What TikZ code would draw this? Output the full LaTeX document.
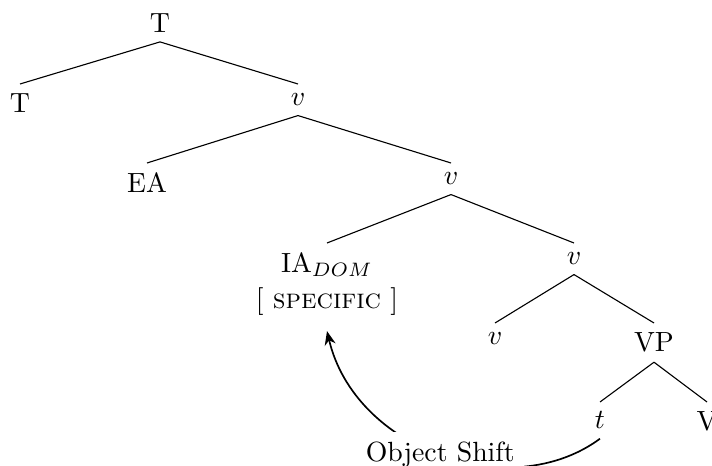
\documentclass[tikz,border=0pt]{standalone}
\usetikzlibrary{arrows.meta}
\tikzset{
    leaf/.style={anchor=north, inner sep=3.33pt},
    branch/.style={line width=0.4pt},
    shift arrow/.style={-{Stealth[length=5pt,width=4pt]}, semithick}
}
\begin{document}
\begin{tikzpicture}[x=0.36pt,y=-0.36pt]
    \useasboundingbox (0,0) rectangle (712,466);
    % tree nodes, placed by their top
    \node[leaf] (tp) at (160,3.5) {T};
    \node[leaf] (t0) at (20,84) {T};
    \node[leaf] (v1) at (298,84) {$v$};
    \node[leaf] (ea) at (147,163) {EA};
    \node[leaf] (v2) at (451,163) {$v$};
    \node[leaf, align=center] (ia) at (327,243) {IA$_{DOM}$\\[1pt] {[}~\textsc{specific}~{]}};
    \node[leaf] (v3) at (574,243) {$v$};
    \node[leaf] (v4) at (495,323) {$v$};
    \node[leaf] (vp) at (654,323) {VP};
    \node[leaf] (tr) at (600,402) {$t$};
    \node[leaf] (vv) at (707,402) {V};
    % branches
    \foreach \p/\c in {tp/t0, tp/v1, v1/ea, v1/v2, v2/ia, v2/v3, v3/v4, v3/vp, vp/tr, vp/vv}
        \draw[branch] (\p.south) -- (\c.north);
    % movement
    \draw[shift arrow] (tr.south) .. controls (510,505) and (355,450) .. ([yshift=-2pt]ia.south)
        node[midway, fill=white] (os) {Object Shift};
\end{tikzpicture}
\end{document}
